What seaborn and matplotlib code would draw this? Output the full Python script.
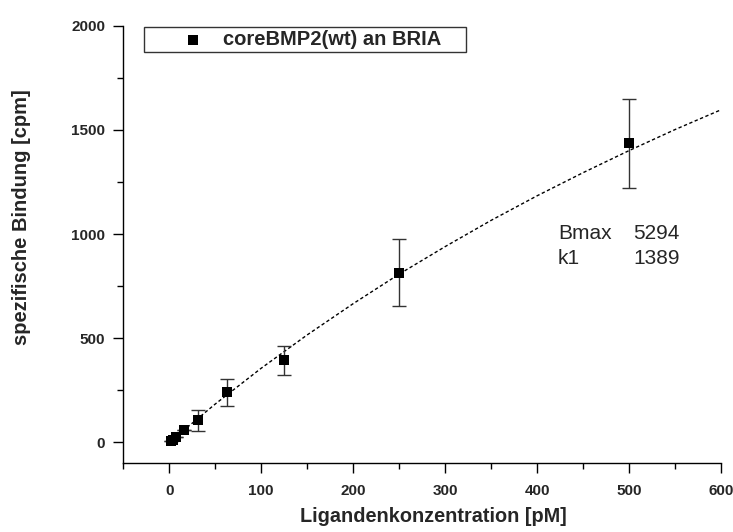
import numpy as np
import pandas as pd
import matplotlib
matplotlib.use("Agg")
import matplotlib.pyplot as plt
import seaborn as sns
from matplotlib.ticker import MultipleLocator

# Measured data
conc = [1.95, 3.9, 7.8, 15.6, 31.25, 62.5, 125, 250, 500]
binding = [5, 12, 24, 58, 108, 240, 395, 815, 1435]
err_up = [0, 0, 0, 0, 50, 65, 70, 162, 215]
err_down = [0, 0, 0, 0, 52, 65, 70, 162, 212]

# Fitted curve
fit_x = [0, 50, 100, 150, 200, 250, 300, 350, 400, 450, 500, 550, 600]
fit_y = [0, 184, 356, 516, 666, 808, 940, 1066, 1184, 1295, 1401, 1502, 1597]

series_label = "coreBMP2(wt) an BRIA"
param_names = ["Bmax", "k1"]
param_values = ["5294", "1389"]

sns.set_style("ticks")
plt.rcParams["font.family"] = ["Liberation Sans", "DejaVu Sans"]

fig = plt.figure(figsize=(7.33, 5.32), dpi=100)
ax = fig.add_axes([0.168, 0.1292, 0.816, 0.8225])

df_pts = pd.DataFrame({"x": conc, "y": binding})
df_fit = pd.DataFrame({"x": fit_x, "y": fit_y})

sns.lineplot(data=df_fit, x="x", y="y", ax=ax, color="black", lw=1.0,
             linestyle=(0, (2.4, 1.8)), zorder=2)
ax.errorbar(conc, binding, yerr=[err_down, err_up], fmt="none",
            ecolor="#333333", elinewidth=1.0, capsize=5, capthick=1.0, zorder=3)
sns.scatterplot(data=df_pts, x="x", y="y", ax=ax, marker="s", s=55,
                color="black", edgecolor="black", linewidth=0,
                label=series_label, zorder=4)

ax.set_xlim(-50, 600)
ax.set_ylim(-100, 2000)
ax.xaxis.set_major_locator(MultipleLocator(100))
ax.xaxis.set_minor_locator(MultipleLocator(50))
ax.yaxis.set_major_locator(MultipleLocator(500))
ax.yaxis.set_minor_locator(MultipleLocator(250))
ax.tick_params(which="major", length=7.5, width=1, color="black", direction="out", pad=5.5)
ax.tick_params(which="minor", length=4.5, width=1, color="black", direction="out")
ax.tick_params(axis="x", which="major", pad=7.5)
for lab in ax.get_xticklabels() + ax.get_yticklabels():
    lab.set_fontweight("bold")
    lab.set_fontsize(11)

sns.despine(ax=ax)
for s in ["left", "bottom"]:
    ax.spines[s].set_linewidth(1.0)
    ax.spines[s].set_color("black")

ax.set_xlabel("Ligandenkonzentration [pM]", fontsize=14.3, fontweight="bold")
ax.set_ylabel("spezifische Bindung [cpm]", fontsize=14.5, fontweight="bold")
ax.xaxis.set_label_coords(0.518, -0.099)
ax.yaxis.set_label_coords(-0.154, 0.5635)

leg = ax.legend(loc="upper left", bbox_to_anchor=(0.035, 0.997), borderaxespad=0,
                frameon=True, fancybox=False,
                prop={"weight": "bold", "size": 14.5},
                handlelength=4.6, handletextpad=-0.85, borderpad=0.15)
leg.get_frame().set_edgecolor("black")
leg.get_frame().set_linewidth(1.0)
for t in leg.get_texts():
    t.set_text(series_label + "    ")

for i, (n, v) in enumerate(zip(param_names, param_values)):
    yy = 0.524 - i * 0.056
    ax.text(0.727, yy, n, transform=ax.transAxes, fontsize=15, va="center")
    ax.text(0.853, yy, v, transform=ax.transAxes, fontsize=15, va="center")

fig.savefig("out.png", dpi=100)
